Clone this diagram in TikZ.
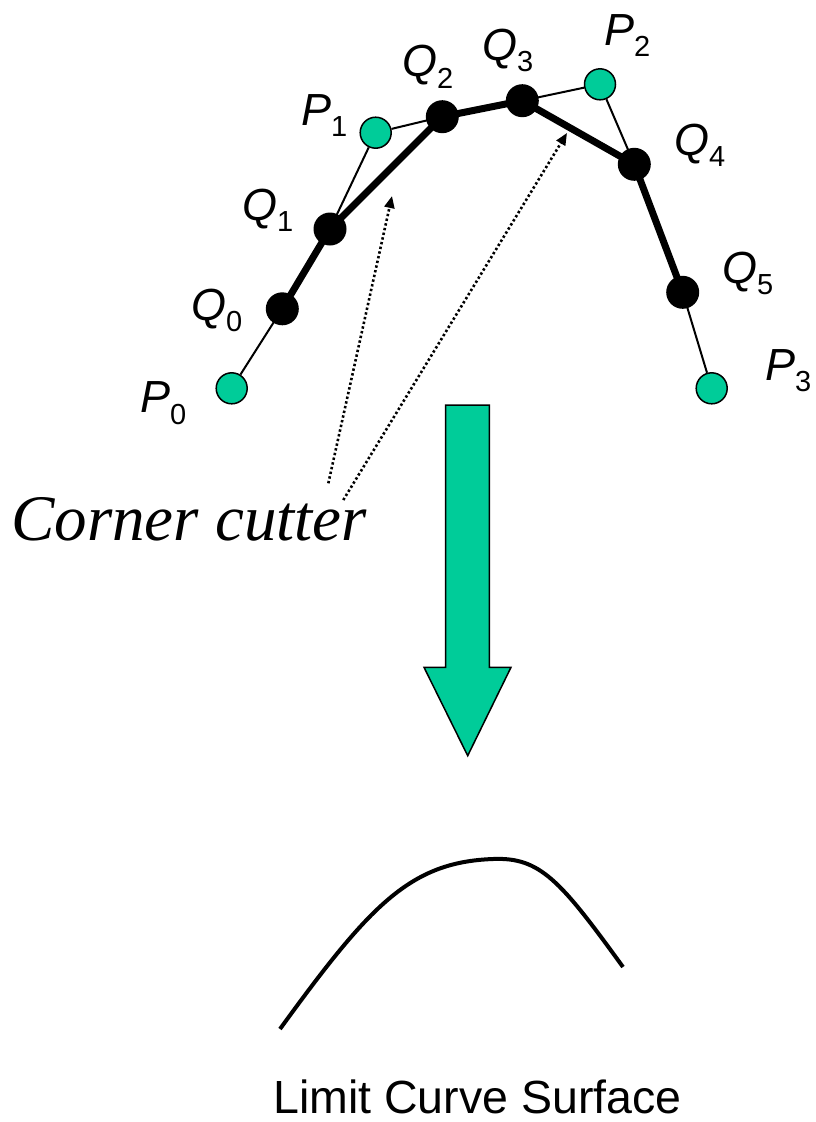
\documentclass[tikz,border=0pt]{standalone}
\usepackage{fontspec}
\setmainfont{Liberation Sans}
\newfontfamily\timesfont{Liberation Serif}
\usetikzlibrary{arrows.meta}
\definecolor{cpgreen}{RGB}{0,204,153}
\newcommand\qlab[2]{\fontsize{45}{45}\selectfont\textit{#1}\raisebox{-11.5pt}{\fontsize{29}{29}\selectfont #2}}
\newcommand\plab[2]{\fontsize{45}{45}\selectfont\textit{#1}\raisebox{-11.5pt}{\fontsize{29}{29}\selectfont #2}}
\begin{document}
\begin{tikzpicture}[x=1pt,y=-1pt,
  ctrlpt/.style={circle,draw=black,line width=1.5pt,fill=cpgreen,minimum size=31pt,inner sep=0pt},
  newpt/.style={circle,fill=black,minimum size=33pt,inner sep=0pt},
  thinline/.style={line width=2pt},
  thickline/.style={line width=7pt,line join=round},
  lbl/.style={anchor=base west,inner sep=0pt},
  dotarrow/.style={line width=2.6pt,dash pattern=on 2.4pt off 2.4pt,-{Triangle[length=12pt,width=10pt]}},
  bigarrow/.style={fill=cpgreen,draw=black,line width=1.5pt,line join=miter},
  curve/.style={line width=4pt}]
\useasboundingbox (0,0) rectangle (816,1122);
% points
\node[ctrlpt] (P0) at (231.7,388.3) {};
\node[ctrlpt] (P1) at (375.7,132.7) {};
\node[ctrlpt] (P2) at (600,84.3) {};
\node[ctrlpt] (P3) at (711.7,388.3) {};
\node[newpt] (Q0) at (282.3,308.8) {};
\node[newpt] (Q1) at (330,229) {};
\node[newpt] (Q2) at (442.3,116.7) {};
\node[newpt] (Q3) at (522.3,100.7) {};
\node[newpt] (Q4) at (634.3,164.3) {};
\node[newpt] (Q5) at (682.7,292.3) {};
% thin control polygon pieces
\draw[thinline] (P0) -- (Q0.center);
\draw[thinline] (Q1.center) -- (P1) -- (Q2.center);
\draw[thinline] (Q3.center) -- (P2) -- (Q4.center);
\draw[thinline] (Q5.center) -- (P3);
% thick refined polygon
\draw[thickline] (Q0.center) -- (Q1.center) -- (Q2.center) -- (Q3.center) -- (Q4.center) -- (Q5.center);
% labels
\node[lbl] (lP0) at (140,412.7) {\plab{P}{0}};
\node[lbl] (lQ0) at (191,320) {\qlab{Q}{0}};
\node[lbl] (lQ1) at (242,220) {\qlab{Q}{1}};
\node[lbl] (lP1) at (301,125) {\plab{P}{1}};
\node[lbl] (lQ2) at (402,76.7) {\qlab{Q}{2}};
\node[lbl] (lQ3) at (482,60) {\qlab{Q}{3}};
\node[lbl] (lP2) at (604,45) {\plab{P}{2}};
\node[lbl] (lQ4) at (674,155) {\qlab{Q}{4}};
\node[lbl] (lQ5) at (722,283.3) {\qlab{Q}{5}};
\node[lbl] (lP3) at (765,380) {\plab{P}{3}};
% corner cutter
\node[lbl] (cc) at (11,540) {\timesfont\itshape\fontsize{65}{65}\selectfont Corner cutter};
\coordinate (a1s) at (328.3,483.3);
\coordinate (a1e) at (392,196);
\coordinate (a2s) at (343.3,500);
\coordinate (a2e) at (567,133);
\draw[dotarrow] (a1s) -- (a1e);
\draw[dotarrow] (a2s) -- (a2e);
% big arrow
\draw[bigarrow] (445.7,405) -- (489.3,405) -- (489.3,667.3) -- (511,667.3) -- (467.7,755.7) -- (424,667.3) -- (445.7,667.3) -- cycle;
% limit curve
\draw[curve] (280,1029) .. controls (370,905) and (410,862) .. (493,859) .. controls (540,857) and (560,880) .. (623,967);
\node[lbl] (lc) at (273,1113) {\fontsize{46.5}{46.5}\selectfont Limit Curve Surface};
\end{tikzpicture}
\end{document}
